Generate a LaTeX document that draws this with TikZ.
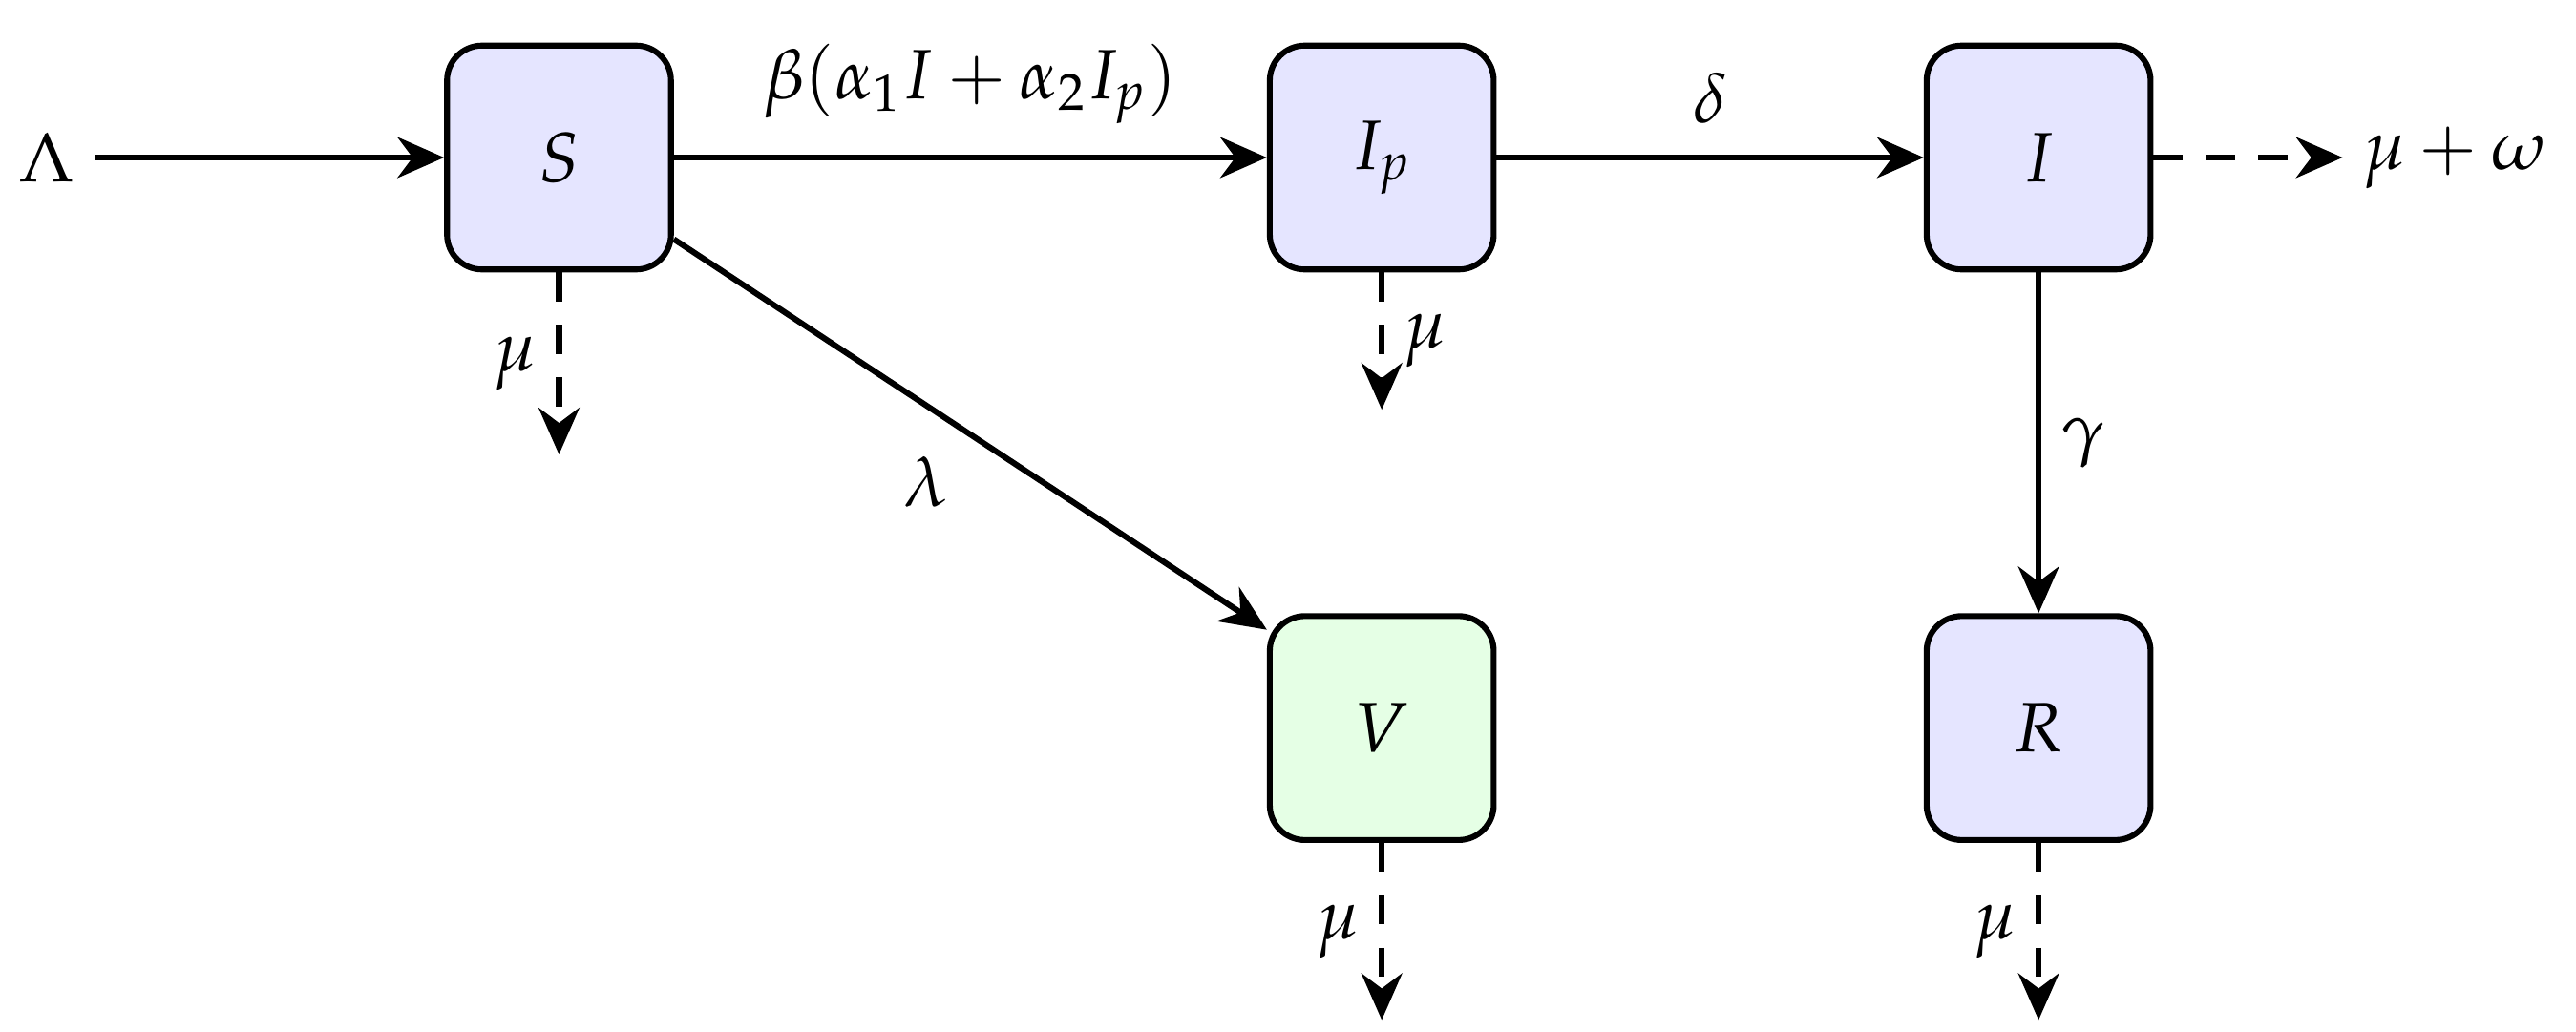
\documentclass[tikz,border=0pt]{standalone}
\usepackage{mathpazo}
\usetikzlibrary{arrows.meta}
\usetikzlibrary{positioning}
\tikzset{
  comp/.style={draw, line width=1pt, rounded corners=6pt, minimum size=1.35cm, fill=blue!10, font=\large},
  flow/.style={-{Stealth[length=8pt,width=7pt]}, line width=1pt},
  loss/.style={flow, dashed, dash pattern=on 5pt off 4pt},
}
\begin{document}
\begin{tikzpicture}
            \useasboundingbox (0,0) rectangle (15.53,6.22);
            \node[font=\large] (Lam) at (0.28,5.27) {\(\Lambda\)};
            \node[comp] (S) at (3.37,5.27) {\(S\)};
            \node[comp] (Ip) at (8.33,5.27) {\(I_p\)};
            \node[comp] (I) at (12.29,5.27) {\(I\)};
            \node[comp, fill=green!10] (V) at (8.33,1.83) {\(V\)};
            \node[comp] (R) at (12.29,1.83) {\(R\)};
            \node[font=\large] (muw) at (14.8,5.27) {\(\mu+\omega\)};
            \coordinate (dS) at (3.37,3.48);
            \coordinate (dIp) at (8.33,3.75);
            \coordinate (dV) at (8.33,0.07);
            \coordinate (dR) at (12.29,0.07);
            \draw[flow] (Lam) -- (S);
            \draw[flow] (S) -- node[above, font=\large, yshift=2pt] {\(\beta(\alpha_1 I+\alpha_2 I_p)\)} (Ip);
            \draw[flow] (Ip) -- node[above, font=\large, yshift=2pt] {\(\delta\)} (I);
            \draw[flow] (S.south east) ++(0,0.2) -- node[below left, font=\large] {\(\lambda\)} ([yshift=-0.1cm]V.north west);
            \draw[flow] (I) -- node[right, font=\large] {\(\gamma\)} (R);
            \draw[loss] (I) -- (muw);
            \draw[loss] (S) -- node[left, font=\large] {\(\mu\)} (dS);
            \draw[loss] (Ip) -- node[right, font=\large] {\(\mu\)} (dIp);
            \draw[loss] (V) -- node[left, font=\large] {\(\mu\)} (dV);
            \draw[loss] (R) -- node[left, font=\large] {\(\mu\)} (dR);
        \end{tikzpicture}
\end{document}
